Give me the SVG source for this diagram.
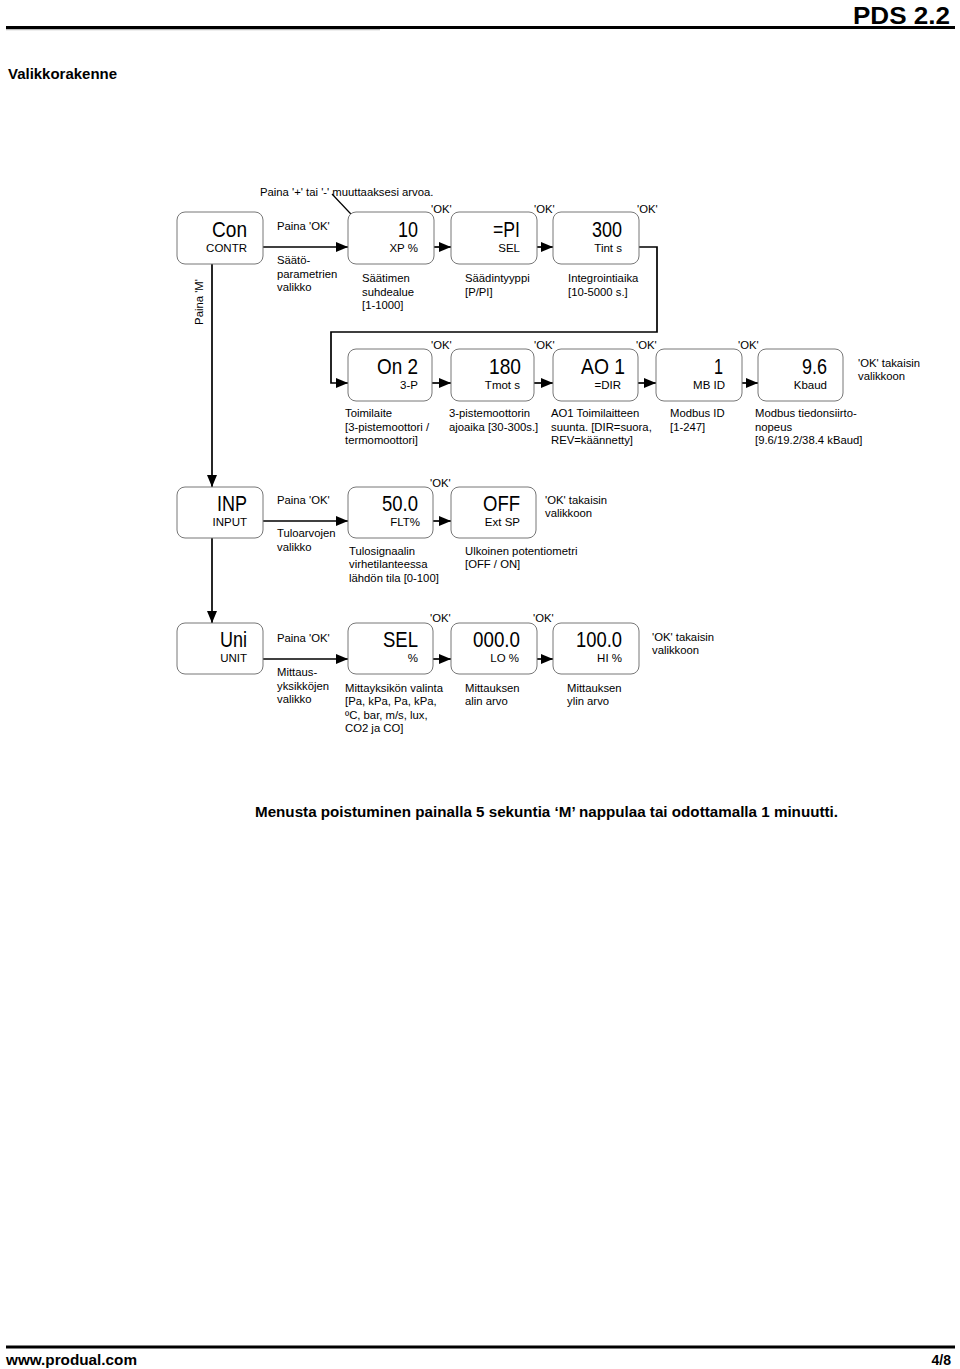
<svg xmlns="http://www.w3.org/2000/svg" width="960" height="1369" viewBox="0 0 960 1369">
<style>
text{font-family:"Liberation Sans",Arial,sans-serif;fill:#000}
.big{font-size:22px;text-anchor:end}
.sm{font-size:11.5px;text-anchor:end}
.t{font-size:11.3px}
.ok{font-size:11.3px}
.box{fill:#fff;stroke:#777;stroke-width:1}
.ln{fill:none;stroke:#000;stroke-width:1.7}
.hd{font-weight:bold}
</style>
<defs>
<marker id="ah" markerUnits="userSpaceOnUse" markerWidth="13" markerHeight="11" refX="12" refY="5" orient="auto">
<path d="M0,0 L12,5 L0,10 z" fill="#000"/>
</marker>
</defs>
<rect width="960" height="1369" fill="#fff"/>

<!-- header -->
<text x="950" y="24" class="hd" font-size="24" text-anchor="end" textLength="97" lengthAdjust="spacingAndGlyphs">PDS 2.2</text>
<line x1="6" y1="29.5" x2="380" y2="29.5" stroke="#bbb" stroke-width="1.5"/>
<line x1="6" y1="27.5" x2="955" y2="27.5" stroke="#000" stroke-width="3"/>
<text x="8" y="79" class="hd" font-size="15" textLength="109" lengthAdjust="spacingAndGlyphs">Valikkorakenne</text>

<!-- connectors -->
<g id="connectors">
<line class="ln" x1="263" y1="247" x2="348" y2="247" marker-end="url(#ah)"/>
<line class="ln" x1="434" y1="247" x2="451" y2="247" marker-end="url(#ah)"/>
<line class="ln" x1="537" y1="247" x2="553" y2="247" marker-end="url(#ah)"/>
<polyline class="ln" points="639,247 657,247 657,332 331,332 331,383 348,383" marker-end="url(#ah)"/>
<line class="ln" x1="432" y1="383" x2="451" y2="383" marker-end="url(#ah)"/>
<line class="ln" x1="534" y1="383" x2="553" y2="383" marker-end="url(#ah)"/>
<line class="ln" x1="638" y1="383" x2="656" y2="383" marker-end="url(#ah)"/>
<line class="ln" x1="742" y1="383" x2="758" y2="383" marker-end="url(#ah)"/>
<line class="ln" x1="212" y1="264" x2="212" y2="487" marker-end="url(#ah)"/>
<line class="ln" x1="263" y1="521" x2="348" y2="521" marker-end="url(#ah)"/>
<line class="ln" x1="433" y1="521" x2="451" y2="521" marker-end="url(#ah)"/>
<line class="ln" x1="212" y1="538" x2="212" y2="623" marker-end="url(#ah)"/>
<line class="ln" x1="263" y1="659" x2="348" y2="659" marker-end="url(#ah)"/>
<line class="ln" x1="433" y1="659" x2="451" y2="659" marker-end="url(#ah)"/>
<line class="ln" x1="537" y1="659" x2="553" y2="659" marker-end="url(#ah)"/>
<line x1="332" y1="194" x2="366" y2="230" stroke="#000" stroke-width="1.2"/>
</g>

<!-- row 1 -->
<g id="con"><rect class="box" x="177" y="212" width="86" height="52" rx="8"/><text class="big" x="247" y="237" textLength="35" lengthAdjust="spacingAndGlyphs">Con</text><text class="sm" x="247" y="252">CONTR</text></g>
<g id="xp"><rect class="box" x="348" y="212" width="86" height="52" rx="8"/><text class="big" x="418" y="237" textLength="20" lengthAdjust="spacingAndGlyphs">10</text><text class="sm" x="418" y="252">XP %</text></g>
<g id="sel"><rect class="box" x="451" y="212" width="86" height="52" rx="8"/><text class="big" x="520" y="237" textLength="27" lengthAdjust="spacingAndGlyphs">=PI</text><text class="sm" x="520" y="252">SEL</text></g>
<g id="tint"><rect class="box" x="553" y="212" width="86" height="52" rx="8"/><text class="big" x="622" y="237" textLength="30" lengthAdjust="spacingAndGlyphs">300</text><text class="sm" x="622" y="252">Tint s</text></g>

<text class="t" x="260" y="196">Paina '+' tai '-' muuttaaksesi arvoa.</text>
<text class="t" x="277" y="230">Paina 'OK'</text>
<text class="t" x="277" y="264">Säätö-</text>
<text class="t" x="277" y="277.5">parametrien</text>
<text class="t" x="277" y="291">valikko</text>
<text class="ok" x="431" y="213">'OK'</text>
<text class="ok" x="534" y="213">'OK'</text>
<text class="ok" x="637" y="213">'OK'</text>
<text class="t" x="362" y="282">Säätimen</text>
<text class="t" x="362" y="295.5">suhdealue</text>
<text class="t" x="362" y="309">[1-1000]</text>
<text class="t" x="465" y="282">Säädintyyppi</text>
<text class="t" x="465" y="295.5">[P/PI]</text>
<text class="t" x="568" y="282">Integrointiaika</text>
<text class="t" x="568" y="295.5">[10-5000 s.]</text>
<text class="t" x="203" y="302" text-anchor="middle" transform="rotate(-90 203 302)">Paina  'M'</text>

<!-- row 2 -->
<g id="on2"><rect class="box" x="348" y="349" width="84" height="52" rx="8"/><text class="big" x="418" y="374" textLength="41" lengthAdjust="spacingAndGlyphs">On 2</text><text class="sm" x="418" y="389">3-P</text></g>
<g id="tmot"><rect class="box" x="451" y="349" width="83" height="52" rx="8"/><text class="big" x="521" y="374" textLength="32" lengthAdjust="spacingAndGlyphs">180</text><text class="sm" x="520" y="389">Tmot s</text></g>
<g id="ao1"><rect class="box" x="553" y="349" width="85" height="52" rx="8"/><text class="big" x="625" y="374" textLength="44" lengthAdjust="spacingAndGlyphs">AO 1</text><text class="sm" x="621" y="389">=DIR</text></g>
<g id="mbid"><rect class="box" x="656" y="349" width="86" height="52" rx="8"/><text class="big" x="723" y="374" textLength="9" lengthAdjust="spacingAndGlyphs">1</text><text class="sm" x="725" y="389">MB ID</text></g>
<g id="kbaud"><rect class="box" x="758" y="349" width="85" height="52" rx="8"/><text class="big" x="827" y="374" textLength="25" lengthAdjust="spacingAndGlyphs">9.6</text><text class="sm" x="827" y="389">Kbaud</text></g>

<text class="ok" x="431" y="349">'OK'</text>
<text class="ok" x="534" y="349">'OK'</text>
<text class="ok" x="636" y="349">'OK'</text>
<text class="ok" x="738" y="349">'OK'</text>
<text class="t" x="858" y="367">'OK' takaisin</text>
<text class="t" x="858" y="380">valikkoon</text>
<text class="t" x="345" y="417">Toimilaite</text>
<text class="t" x="345" y="431">[3-pistemoottori /</text>
<text class="t" x="345" y="444">termomoottori]</text>
<text class="t" x="449" y="417">3-pistemoottorin</text>
<text class="t" x="449" y="431">ajoaika [30-300s.]</text>
<text class="t" x="551" y="417">AO1 Toimilaitteen</text>
<text class="t" x="551" y="431">suunta. [DIR=suora,</text>
<text class="t" x="551" y="444">REV=käännetty]</text>
<text class="t" x="670" y="417">Modbus ID</text>
<text class="t" x="670" y="431">[1-247]</text>
<text class="t" x="755" y="417">Modbus tiedonsiirto-</text>
<text class="t" x="755" y="431">nopeus</text>
<text class="t" x="755" y="444">[9.6/19.2/38.4 kBaud]</text>

<!-- row 3 -->
<g id="inp"><rect class="box" x="177" y="487" width="86" height="51" rx="8"/><text class="big" x="247" y="511" textLength="30" lengthAdjust="spacingAndGlyphs">INP</text><text class="sm" x="247" y="526">INPUT</text></g>
<g id="flt"><rect class="box" x="348" y="487" width="85" height="51" rx="8"/><text class="big" x="418" y="511" textLength="36" lengthAdjust="spacingAndGlyphs">50.0</text><text class="sm" x="420" y="526">FLT%</text></g>
<g id="extsp"><rect class="box" x="451" y="487" width="85" height="51" rx="8"/><text class="big" x="520" y="511" textLength="37" lengthAdjust="spacingAndGlyphs">OFF</text><text class="sm" x="520" y="526">Ext SP</text></g>

<text class="ok" x="430" y="487">'OK'</text>
<text class="t" x="277" y="504">Paina 'OK'</text>
<text class="t" x="277" y="537">Tuloarvojen</text>
<text class="t" x="277" y="551">valikko</text>
<text class="t" x="349" y="555">Tulosignaalin</text>
<text class="t" x="349" y="568">virhetilanteessa</text>
<text class="t" x="349" y="582">lähdön tila [0-100]</text>
<text class="t" x="465" y="555">Ulkoinen potentiometri</text>
<text class="t" x="465" y="568">[OFF / ON]</text>
<text class="t" x="545" y="504">'OK' takaisin</text>
<text class="t" x="545" y="517">valikkoon</text>

<!-- row 4 -->
<g id="uni"><rect class="box" x="177" y="623" width="86" height="51" rx="8"/><text class="big" x="247" y="647" textLength="27" lengthAdjust="spacingAndGlyphs">Uni</text><text class="sm" x="247" y="662">UNIT</text></g>
<g id="selu"><rect class="box" x="348" y="623" width="85" height="51" rx="8"/><text class="big" x="418" y="647" textLength="35" lengthAdjust="spacingAndGlyphs">SEL</text><text class="sm" x="418" y="662">%</text></g>
<g id="lo"><rect class="box" x="451" y="623" width="86" height="51" rx="8"/><text class="big" x="520" y="647" textLength="47" lengthAdjust="spacingAndGlyphs">000.0</text><text class="sm" x="519" y="662">LO %</text></g>
<g id="hi"><rect class="box" x="553" y="623" width="86" height="51" rx="8"/><text class="big" x="622" y="647" textLength="46" lengthAdjust="spacingAndGlyphs">100.0</text><text class="sm" x="622" y="662">HI %</text></g>

<text class="ok" x="430" y="622">'OK'</text>
<text class="ok" x="533" y="622">'OK'</text>
<text class="t" x="277" y="642">Paina 'OK'</text>
<text class="t" x="277" y="676">Mittaus-</text>
<text class="t" x="277" y="690">yksikköjen</text>
<text class="t" x="277" y="703">valikko</text>
<text class="t" x="345" y="692">Mittayksikön valinta</text>
<text class="t" x="345" y="705">[Pa, kPa, Pa, kPa,</text>
<text class="t" x="345" y="719">ºC, bar, m/s, lux,</text>
<text class="t" x="345" y="732">CO2 ja CO]</text>
<text class="t" x="465" y="692">Mittauksen</text>
<text class="t" x="465" y="705">alin arvo</text>
<text class="t" x="567" y="692">Mittauksen</text>
<text class="t" x="567" y="705">ylin arvo</text>
<text class="t" x="652" y="641">'OK' takaisin</text>
<text class="t" x="652" y="654">valikkoon</text>

<text x="255" y="817" class="hd" font-size="14.5" textLength="583" lengthAdjust="spacingAndGlyphs">Menusta poistuminen painalla 5 sekuntia ‘M’ nappulaa tai odottamalla 1 minuutti.</text>

<!-- footer -->
<line x1="6" y1="1347" x2="955" y2="1347" stroke="#000" stroke-width="3"/>
<text x="6" y="1365" class="hd" font-size="14" textLength="131" lengthAdjust="spacingAndGlyphs">www.produal.com</text>
<text x="951" y="1365" class="hd" font-size="14" text-anchor="end">4/8</text>
</svg>
